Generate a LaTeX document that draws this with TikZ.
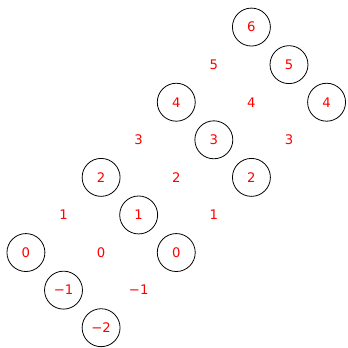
\documentclass[tikz,border=0pt]{standalone}
\usepackage{fontspec}
\setmainfont{DejaVu Sans}
\usepackage{tikz}
\usetikzlibrary{positioning}

\tikzset{
  ring/.style={circle, draw=black, line width=0.6pt, minimum size=1.01cm, inner sep=0pt, text=red},
  plain/.style={inner sep=0pt, text=red}
}

\begin{document}
\begin{tikzpicture}
  \useasboundingbox (-0.69,0.72) rectangle (8.56,-8.54);
  % circled values
  \node[ring] (c6) at (6,0) {6};
  \node[ring] (c5) at (7,-1) {5};
  \node[ring] (c4r) at (8,-2) {4};
  \node[ring] (c4l) at (4,-2) {4};
  \node[ring] (c3) at (5,-3) {3};
  \node[ring] (c2r) at (6,-4) {2};
  \node[ring] (c2l) at (2,-4) {2};
  \node[ring] (c1) at (3,-5) {1};
  \node[ring] (c0l) at (0,-6) {0};
  \node[ring] (c0r) at (4,-6) {0};
  \node[ring] (cm1) at (1,-7) {−1};
  \node[ring] (cm2) at (2,-8) {−2};
  % bare values
  \node[plain] (p5) at (5,-1) {5};
  \node[plain] (p4) at (6,-2) {4};
  \node[plain] (p3l) at (3,-3) {3};
  \node[plain] (p3r) at (7,-3) {3};
  \node[plain] (p2) at (4,-4) {2};
  \node[plain] (p1l) at (1,-5) {1};
  \node[plain] (p1r) at (5,-5) {1};
  \node[plain] (p0) at (2,-6) {0};
  \node[plain] (pm1) at (3,-7) {−1};
\end{tikzpicture}
\end{document}
